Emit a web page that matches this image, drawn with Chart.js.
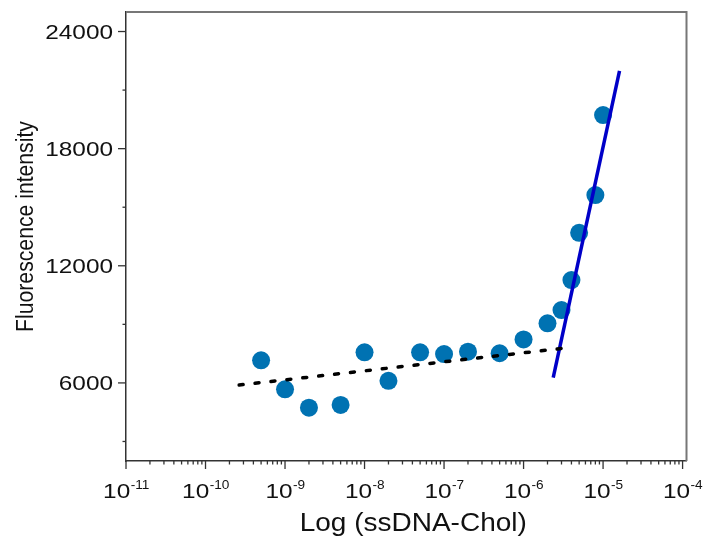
<!DOCTYPE html>
<html>
<head>
<meta charset="utf-8">
<script src="https://cdn.jsdelivr.net/npm/chart.js@4.4.1/dist/chart.umd.min.js"></script>
<style>
  html, body { margin: 0; padding: 0; background: #fff; }
  canvas { display: block; }
</style>
</head>
<body>
<canvas id="chart" width="710" height="542"></canvas>
<script>
// measured points (concentration in M, fluorescence intensity)
const concentrations = [5e-10, 1e-9, 2e-9, 5e-9, 1e-8, 2e-8, 5e-8, 1e-7, 2e-7, 5e-7,
                        1e-6, 2e-6, 3e-6, 4e-6, 5e-6, 8e-6, 1e-5];
const intensities = [7160, 5670, 4730, 4870, 7570, 6110, 7570, 7480, 7600, 7520,
                     8230, 9050, 9730, 11270, 13690, 15620, 19720];

// fitted lines, end points only
const lowFitX = [2.65e-10, 3.1e-6];
const lowFitY = [5890, 7770];
const highFitX = [2.36e-6, 1.61e-5];
const highFitY = [6270, 21980];

// axes
const xTickExponents = [-11, -10, -9, -8, -7, -6, -5, -4];
const yMajorTicks = [6000, 12000, 18000, 24000];
const yMinorTicks = [3000, 9000, 15000, 21000];

const FONT = '"Liberation Sans", Arial, sans-serif';

// text is a bit wider than the font, so stretch it horizontally
function stretchedText(ctx, text, x, y, size, sx, align) {
  ctx.save();
  ctx.font = size + 'px ' + FONT;
  ctx.translate(x, y);
  ctx.scale(sx, 1);
  ctx.textAlign = align;
  ctx.textBaseline = 'alphabetic';
  ctx.fillText(text, 0, 0);
  ctx.restore();
}

const axisDecor = {
  id: 'axisDecor',
  beforeDatasetsDraw(chart) {
    const { ctx, chartArea: a } = chart;
    ctx.save();
    ctx.strokeStyle = '#777';
    ctx.lineWidth = 2;
    ctx.beginPath();
    ctx.moveTo(a.left, a.top);
    ctx.lineTo(a.right, a.top);
    ctx.lineTo(a.right, a.bottom);
    ctx.stroke();
    ctx.restore();
  },
  afterDraw(chart) {
    const { ctx, chartArea: a, scales: { x, y } } = chart;
    ctx.save();
    ctx.strokeStyle = '#333';
    ctx.lineWidth = 1.3;
    ctx.fillStyle = '#111';

    // x ticks: decades plus 2..9 minors
    xTickExponents.forEach((e, i) => {
      const ks = i < xTickExponents.length - 1 ? [1, 2, 3, 4, 5, 6, 7, 8, 9] : [1];
      ks.forEach(k => {
        const px = x.getPixelForValue(Number(k + 'e' + e));
        ctx.beginPath();
        ctx.moveTo(px, a.bottom);
        ctx.lineTo(px, a.bottom + (k === 1 ? 8 : 3.5));
        ctx.stroke();
      });
      const px = x.getPixelForValue(Number('1e' + e));
      ctx.font = '19.5px ' + FONT;
      const w10 = ctx.measureText('10').width * 1.25;
      ctx.font = '13px ' + FONT;
      const wexp = ctx.measureText(String(e)).width * 1.05;
      const start = px - (w10 + wexp) / 2;
      stretchedText(ctx, '10', start, 497.5, 19.5, 1.25, 'left');
      stretchedText(ctx, String(e), start + w10 + 0.5, 488.5, 13, 1.05, 'left');
    });

    // y ticks
    yMinorTicks.forEach(v => {
      const py = y.getPixelForValue(v);
      ctx.beginPath();
      ctx.moveTo(a.left, py);
      ctx.lineTo(a.left - 3.5, py);
      ctx.stroke();
    });
    yMajorTicks.forEach(v => {
      const py = y.getPixelForValue(v);
      ctx.beginPath();
      ctx.moveTo(a.left, py);
      ctx.lineTo(a.left - 8, py);
      ctx.stroke();
      stretchedText(ctx, String(v), a.left - 13, py + 7, 19.5, 1.25, 'right');
    });

    // axis titles
    stretchedText(ctx, 'Log (ssDNA-Chol)', (a.left + a.right) / 2 + 7, 530.5, 25, 1.12, 'center');
    ctx.save();
    ctx.font = '21.2px ' + FONT;
    ctx.translate(33, (a.top + a.bottom) / 2 - 10);
    ctx.rotate(-Math.PI / 2);
    ctx.scale(1, 1.12);
    ctx.textAlign = 'center';
    ctx.textBaseline = 'alphabetic';
    ctx.fillText('Fluorescence intensity', 0, 0);
    ctx.restore();

    ctx.restore();
  }
};

new Chart(document.getElementById('chart'), {
  type: 'scatter',
  data: {
    datasets: [
      {
        label: 'data',
        data: concentrations.map((c, i) => ({ x: c, y: intensities[i] })),
        backgroundColor: '#0072B2',
        borderWidth: 0,
        pointRadius: 9,
        pointHoverRadius: 9,
        order: 2
      },
      {
        type: 'line',
        label: 'low fit',
        data: lowFitX.map((c, i) => ({ x: c, y: lowFitY[i] })),
        borderColor: '#000',
        borderWidth: 3.5,
        borderDash: [4, 12],
        borderCapStyle: 'round',
        pointRadius: 0,
        fill: false,
        order: 1
      },
      {
        type: 'line',
        label: 'high fit',
        data: highFitX.map((c, i) => ({ x: c, y: highFitY[i] })),
        borderColor: '#0000C8',
        borderWidth: 3.5,
        pointRadius: 0,
        fill: false,
        order: 1
      }
    ]
  },
  options: {
    responsive: false,
    animation: false,
    layout: { padding: { top: 12, right: 23.5, left: 0, bottom: 0 } },
    plugins: { legend: { display: false }, tooltip: { enabled: false } },
    scales: {
      x: {
        type: 'logarithmic',
        min: 1e-11,
        max: 1.12e-4,
        grid: { display: false },
        border: { display: true, color: '#333', width: 1.5 },
        ticks: { display: false },
        afterFit(scale) { scale.height = 81; }
      },
      y: {
        type: 'linear',
        min: 2000,
        max: 25000,
        grid: { display: false },
        border: { display: true, color: '#333', width: 1.5 },
        ticks: { display: false },
        afterFit(scale) { scale.width = 126; }
      }
    }
  },
  plugins: [axisDecor]
});
</script>
</body>
</html>
